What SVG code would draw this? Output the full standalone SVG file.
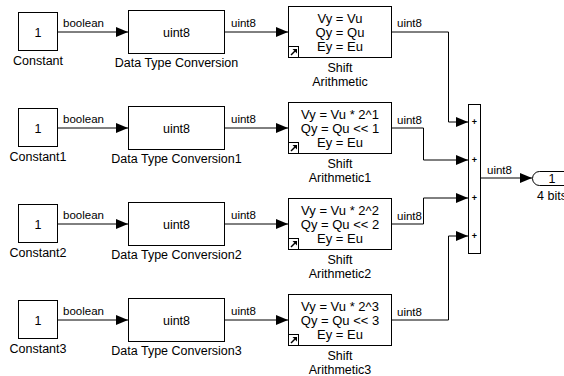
<svg xmlns="http://www.w3.org/2000/svg" width="564" height="376" viewBox="0 0 564 376">
<style>
text{font-family:"Liberation Sans",Arial,sans-serif;fill:#000}
.blk{fill:#fff;stroke:#000;stroke-width:1}
.lbl{font-size:12.5px;text-anchor:middle}
.inner{font-size:13px;text-anchor:middle}
.sig{font-size:11.5px}
.plus{font-size:9px;font-weight:bold;text-anchor:middle}
.w{fill:none;stroke:#000;stroke-width:1}
.ic{fill:#fff;stroke:#000;stroke-width:1}
</style>
<defs>
<marker id="ah" markerUnits="userSpaceOnUse" markerWidth="12" markerHeight="10" refX="12" refY="5" orient="auto">
<path d="M0,0 L12,5 L0,10 z" fill="#000"/>
</marker>
</defs>
<g id="connectors">
<path class="w" d="M57.5,32 H128" marker-end="url(#ah)"/>
<path class="w" d="M224.5,32 H288" marker-end="url(#ah)"/>
<path class="w" d="M57.5,128 H128" marker-end="url(#ah)"/>
<path class="w" d="M224.5,128 H288" marker-end="url(#ah)"/>
<path class="w" d="M57.5,224 H128" marker-end="url(#ah)"/>
<path class="w" d="M224.5,224 H288" marker-end="url(#ah)"/>
<path class="w" d="M57.5,320 H128" marker-end="url(#ah)"/>
<path class="w" d="M224.5,320 H288" marker-end="url(#ah)"/>
<path class="w" d="M391.5,32 H448.5 V122 H468" marker-end="url(#ah)"/>
<path class="w" d="M391.5,128 H423.5 V160 H468" marker-end="url(#ah)"/>
<path class="w" d="M391.5,224 H423.5 V198 H468" marker-end="url(#ah)"/>
<path class="w" d="M391.5,320 H448.5 V236 H468" marker-end="url(#ah)"/>
<path class="w" d="M480.5,178 H532" marker-end="url(#ah)"/>
<text class="sig" x="63" y="27">boolean</text>
<text class="sig" x="231" y="27">uint8</text>
<text class="sig" x="397" y="27">uint8</text>
<text class="sig" x="63" y="123">boolean</text>
<text class="sig" x="231" y="123">uint8</text>
<text class="sig" x="397" y="124">uint8</text>
<text class="sig" x="63" y="219">boolean</text>
<text class="sig" x="231" y="219">uint8</text>
<text class="sig" x="397" y="220">uint8</text>
<text class="sig" x="63" y="315">boolean</text>
<text class="sig" x="231" y="315">uint8</text>
<text class="sig" x="397" y="316">uint8</text>
<text class="sig" x="487" y="174">uint8</text>
</g>
<g id="Constant">
<rect class="blk" x="18.5" y="12.5" width="39" height="38"/>
<text class="lbl" x="38" y="36.5">1</text>
<text class="lbl" x="38" y="65">Constant</text>
</g>
<g id="DataTypeConversion">
<rect class="blk" x="128.5" y="10.5" width="96" height="43"/>
<text class="lbl" x="176.5" y="36.5">uint8</text>
<text class="lbl" x="176.5" y="67">Data Type Conversion</text>
</g>
<g id="ShiftArithmetic">
<rect class="blk" x="288.5" y="6.5" width="103" height="51"/>
<text class="inner" x="340" y="22.5">Vy = Vu</text>
<text class="inner" x="340" y="36.5">Qy = Qu</text>
<text class="inner" x="340" y="50.5">Ey = Eu</text>
<rect class="ic" x="288.5" y="46.5" width="10" height="11"/>
<path d="M291,55 L295,51" stroke="#000" stroke-width="1.5"/>
<path d="M292.5,49 H297 V53.5 z" fill="#000"/>
<text class="lbl" x="340" y="72">Shift</text>
<text class="lbl" x="340" y="86">Arithmetic</text>
</g>
<g id="Constant1">
<rect class="blk" x="18.5" y="108.5" width="39" height="38"/>
<text class="lbl" x="38" y="132.5">1</text>
<text class="lbl" x="38" y="161">Constant1</text>
</g>
<g id="DataTypeConversion1">
<rect class="blk" x="128.5" y="106.5" width="96" height="43"/>
<text class="lbl" x="176.5" y="132.5">uint8</text>
<text class="lbl" x="176.5" y="163">Data Type Conversion1</text>
</g>
<g id="ShiftArithmetic1">
<rect class="blk" x="288.5" y="102.5" width="103" height="51"/>
<text class="inner" x="340" y="118.5">Vy = Vu * 2^1</text>
<text class="inner" x="340" y="132.5">Qy = Qu &lt;&lt; 1</text>
<text class="inner" x="340" y="146.5">Ey = Eu</text>
<rect class="ic" x="288.5" y="142.5" width="10" height="11"/>
<path d="M291,151 L295,147" stroke="#000" stroke-width="1.5"/>
<path d="M292.5,145 H297 V149.5 z" fill="#000"/>
<text class="lbl" x="340" y="168">Shift</text>
<text class="lbl" x="340" y="182">Arithmetic1</text>
</g>
<g id="Constant2">
<rect class="blk" x="18.5" y="204.5" width="39" height="38"/>
<text class="lbl" x="38" y="228.5">1</text>
<text class="lbl" x="38" y="257">Constant2</text>
</g>
<g id="DataTypeConversion2">
<rect class="blk" x="128.5" y="202.5" width="96" height="43"/>
<text class="lbl" x="176.5" y="228.5">uint8</text>
<text class="lbl" x="176.5" y="259">Data Type Conversion2</text>
</g>
<g id="ShiftArithmetic2">
<rect class="blk" x="288.5" y="198.5" width="103" height="51"/>
<text class="inner" x="340" y="214.5">Vy = Vu * 2^2</text>
<text class="inner" x="340" y="228.5">Qy = Qu &lt;&lt; 2</text>
<text class="inner" x="340" y="242.5">Ey = Eu</text>
<rect class="ic" x="288.5" y="238.5" width="10" height="11"/>
<path d="M291,247 L295,243" stroke="#000" stroke-width="1.5"/>
<path d="M292.5,241 H297 V245.5 z" fill="#000"/>
<text class="lbl" x="340" y="264">Shift</text>
<text class="lbl" x="340" y="278">Arithmetic2</text>
</g>
<g id="Constant3">
<rect class="blk" x="18.5" y="300.5" width="39" height="38"/>
<text class="lbl" x="38" y="324.5">1</text>
<text class="lbl" x="38" y="353">Constant3</text>
</g>
<g id="DataTypeConversion3">
<rect class="blk" x="128.5" y="298.5" width="96" height="43"/>
<text class="lbl" x="176.5" y="324.5">uint8</text>
<text class="lbl" x="176.5" y="355">Data Type Conversion3</text>
</g>
<g id="ShiftArithmetic3">
<rect class="blk" x="288.5" y="294.5" width="103" height="51"/>
<text class="inner" x="340" y="310.5">Vy = Vu * 2^3</text>
<text class="inner" x="340" y="324.5">Qy = Qu &lt;&lt; 3</text>
<text class="inner" x="340" y="338.5">Ey = Eu</text>
<rect class="ic" x="288.5" y="334.5" width="10" height="11"/>
<path d="M291,343 L295,339" stroke="#000" stroke-width="1.5"/>
<path d="M292.5,337 H297 V341.5 z" fill="#000"/>
<text class="lbl" x="340" y="360">Shift</text>
<text class="lbl" x="340" y="374">Arithmetic3</text>
</g>
<g id="Sum">
<rect class="blk" x="468.5" y="104.5" width="12" height="149"/>
<text class="plus" x="474.5" y="125">+</text>
<text class="plus" x="474.5" y="163">+</text>
<text class="plus" x="474.5" y="201">+</text>
<text class="plus" x="474.5" y="239">+</text>
</g>
<g id="Outport">
<rect class="blk" x="532.5" y="171.5" width="40" height="14" rx="7" ry="7"/>
<text class="lbl" x="552" y="182.5">1</text>
<text class="lbl" x="552" y="200">4 bits</text>
</g>
</svg>
